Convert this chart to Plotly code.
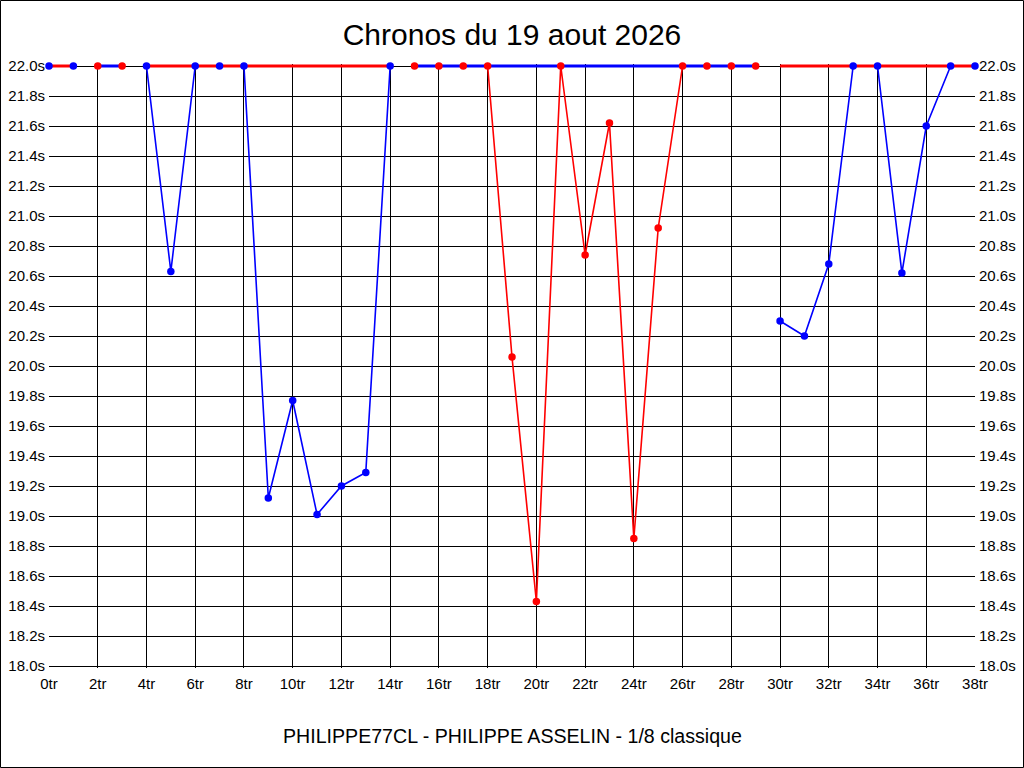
import plotly.graph_objects as go

# lap numbers and lap times (s), times over 22.0 s are shown on the ceiling
laps = list(range(39))
blue_times = [22.0, 22.0, None, None, 22.0, 20.63, 22.0, 22.0, 22.0, 19.12,
              19.77, 19.01, 19.20, 19.29, 22.0,
              None, None, None, None, None, None, None, None, None, None,
              None, None, None, None, None,
              20.30, 20.20, 20.68, 22.0, 22.0, 20.62, 21.60, 22.0, 22.0]
red_times = [None, None, 22.0, 22.0,
             None, None, None, None, None, None, None, None, None, None, None,
             22.0, 22.0, 22.0, 22.0, 20.06, 18.43, 22.0, 20.74, 21.62, 18.85,
             20.92, 22.0, 22.0, 22.0, 22.0,
             None, None, None, None, None, None, None, None, None]
ceiling = 22.0

x_ticks = list(range(0, 39, 2))
x_labels = [f"{v}tr" for v in x_ticks]
y_ticks = [round(18.0 + 0.2 * i, 1) for i in range(21)]
y_labels = [f"{v:.1f}s" for v in y_ticks]

title = "Chronos du 19 aout 2026"
footer = "PHILIPPE77CL - PHILIPPE ASSELIN - 1/8 classique"

BLUE = "#0000ff"
RED = "#ff0000"
FONT = "Liberation Sans, Arial, sans-serif"

W, H = 1024, 768
ML, MR, MT, MB = 49, 49, 64, 100
pad = 2 / 150  # 2 px above 22.0 and below 18.0 so the ceiling line is not cut
plot_h = H - MT - MB

# the thick ceiling line of one colour runs along the stints of the other colour
red_ceiling = [ceiling if v is not None else None for v in blue_times]
blue_ceiling = [ceiling if v is not None else None for v in red_times]

fig = go.Figure()
fig.add_trace(go.Scatter(x=laps, y=blue_times, mode="lines",
                         line=dict(color=BLUE, width=1.6)))
fig.add_trace(go.Scatter(x=laps, y=red_times, mode="lines",
                         line=dict(color=RED, width=1.6)))
fig.add_trace(go.Scatter(x=laps, y=red_ceiling, mode="lines",
                         line=dict(color=RED, width=3)))
fig.add_trace(go.Scatter(x=laps, y=blue_ceiling, mode="lines",
                         line=dict(color=BLUE, width=3)))
fig.add_trace(go.Scatter(x=laps, y=blue_times, mode="markers", cliponaxis=False,
                         marker=dict(color=BLUE, size=7.5, line=dict(width=0))))
fig.add_trace(go.Scatter(x=laps, y=red_times, mode="markers", cliponaxis=False,
                         marker=dict(color=RED, size=7.5, line=dict(width=0))))
# right hand axis labels
fig.add_trace(go.Scatter(x=[None], y=[None], yaxis="y2", hoverinfo="skip"))

yax = dict(range=[18.0 - pad, 22.0 + pad], tickmode="array", tickvals=y_ticks,
           ticktext=y_labels, showline=False, zeroline=False, ticks="",
           automargin=False, ticklabelstandoff=3,
           tickfont=dict(family=FONT, size=15, color="black"))

fig.update_layout(
    width=W, height=H,
    margin=dict(l=ML, r=MR, t=MT, b=MB),
    paper_bgcolor="white", plot_bgcolor="white",
    showlegend=False, hovermode=False,
    title=dict(text=title, x=0.5, xanchor="center", y=1 - 34 / H,
               yanchor="middle", font=dict(family=FONT, size=30, color="black")),
    xaxis=dict(range=[0, 38], tickmode="array", tickvals=x_ticks,
               ticktext=x_labels, showgrid=True, gridcolor="black", gridwidth=1,
               zeroline=False, showline=False, ticks="", automargin=False,
               ticklabelstandoff=5,
               tickfont=dict(family=FONT, size=15, color="black")),
    yaxis=dict(**yax, showgrid=True, gridcolor="black", gridwidth=1),
    yaxis2=dict(**yax, overlaying="y", side="right", showgrid=False),
    annotations=[dict(text=footer, xref="paper", yref="paper", x=0.5,
                      y=(H - MB - 736) / plot_h, xanchor="center",
                      yanchor="middle", showarrow=False,
                      font=dict(family=FONT, size=19.6, color="black"))],
    shapes=[dict(type="rect", xref="paper", yref="paper",
                 x0=(0.5 - ML) / (W - ML - MR), x1=(W - 0.5 - ML) / (W - ML - MR),
                 y0=(H - MB - (H - 0.5)) / plot_h, y1=(H - MB - 0.5) / plot_h,
                 line=dict(color="black", width=1), layer="below")],
)

# the page's default body margin would push the chart 8 px off the corner
fig.write_html("out.html", config={"displayModeBar": False},
               post_script="document.body.style.margin = '0';")
